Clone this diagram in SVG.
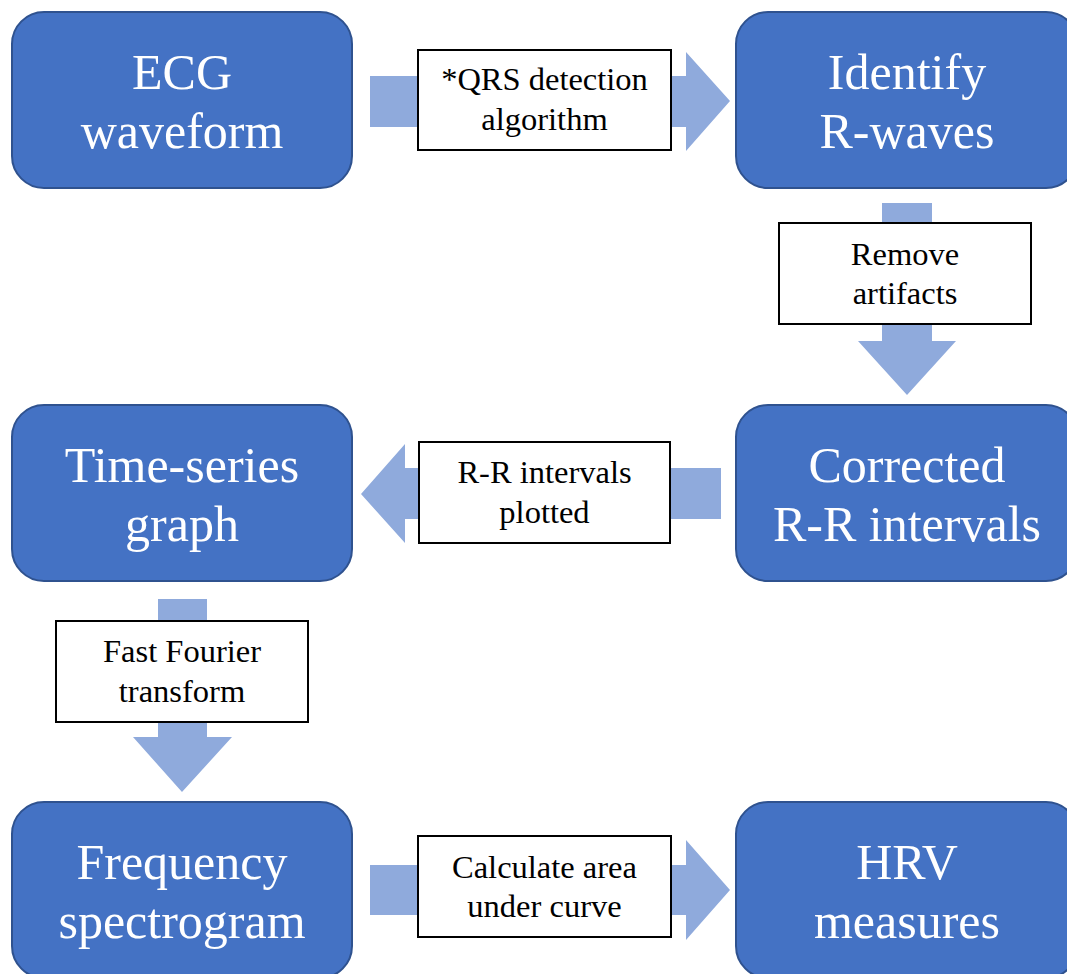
<svg xmlns="http://www.w3.org/2000/svg" width="1067" height="974" viewBox="0 0 1067 974">
<style>
.node rect{fill:#4472C4;stroke:#2F528F;stroke-width:2}
.node text{font-family:"Liberation Serif",serif;font-size:50px;fill:#FFFFFF;text-anchor:middle}
.arrow{fill:#8FAADC}
.label rect{fill:#FFFFFF;stroke:#000000;stroke-width:2}
.label text{font-family:"Liberation Serif",serif;font-size:32.5px;fill:#000000;text-anchor:middle}
</style>
<rect x="0" y="0" width="1067" height="974" fill="#FFFFFF"/>
<g id="connectors">
<polygon class="arrow" points="370,76 686,76 686,52 730,101 686,151 686,127 370,127"/>
<polygon class="arrow" points="882,203 932,203 932,341 956,341 907,395 858,341 882,341"/>
<polygon class="arrow" points="721,468 721,519 405,519 405,543 361,494 405,444 405,468"/>
<polygon class="arrow" points="158,599 207,599 207,737 232,737 182,792 133,737 158,737"/>
<polygon class="arrow" points="370,865 686,865 686,840 730,890 686,940 686,915 370,915"/>
<g class="label" id="label-qrs"><rect x="418" y="50" width="253" height="100"/><text x="544.5" y="90">*QRS detection</text><text x="544.5" y="130">algorithm</text></g>
<g class="label" id="label-artifacts"><rect x="779" y="223" width="252" height="101"/><text x="905" y="265">Remove</text><text x="905" y="304">artifacts</text></g>
<g class="label" id="label-rr"><rect x="419" y="442" width="251" height="101"/><text x="544.5" y="483">R-R intervals</text><text x="544.5" y="523">plotted</text></g>
<g class="label" id="label-fft"><rect x="56" y="621" width="252" height="101"/><text x="182" y="662">Fast Fourier</text><text x="182" y="702">transform</text></g>
<g class="label" id="label-area"><rect x="418" y="836" width="253" height="101"/><text x="544.5" y="878">Calculate area</text><text x="544.5" y="917">under curve</text></g>
</g>
<g class="node" id="node-ecg"><rect x="12" y="12" width="340" height="176" rx="32"/><text x="182" y="89">ECG</text><text x="182" y="148">waveform</text></g>
<g class="node" id="node-identify"><rect x="736" y="12" width="342" height="176" rx="32"/><text x="907" y="89">Identify</text><text x="907" y="148">R-waves</text></g>
<g class="node" id="node-corrected"><rect x="736" y="405" width="342" height="176" rx="32"/><text x="907" y="482">Corrected</text><text x="907" y="541">R-R intervals</text></g>
<g class="node" id="node-timeseries"><rect x="12" y="405" width="340" height="176" rx="32"/><text x="182" y="482">Time-series</text><text x="182" y="541">graph</text></g>
<g class="node" id="node-frequency"><rect x="12" y="802" width="340" height="176" rx="32"/><text x="182" y="879">Frequency</text><text x="182" y="938">spectrogram</text></g>
<g class="node" id="node-hrv"><rect x="736" y="802" width="342" height="176" rx="32"/><text x="907" y="879">HRV</text><text x="907" y="938">measures</text></g>
</svg>
